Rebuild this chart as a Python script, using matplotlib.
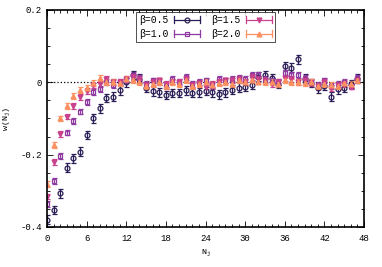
import numpy as np
import matplotlib
matplotlib.use("Agg")
import matplotlib.pyplot as plt
from matplotlib.lines import Line2D
from matplotlib.legend_handler import HandlerBase
from matplotlib.ticker import MultipleLocator, FuncFormatter

plt.rcParams['font.family'] = ['Liberation Mono', 'DejaVu Sans Mono']
plt.rcParams['mathtext.default'] = 'regular'

# data
n_j = list(range(48))
labels = ['β=0.5', 'β=1.0', 'β=1.5', 'β=2.0']

w_b05 = [-0.380, -0.353, -0.307, -0.236, -0.210, -0.192, -0.146, -0.100, -0.072, -0.044,
         -0.040, -0.022, 0.000, 0.020, 0.010, -0.015, -0.025, -0.028, -0.035, -0.030,
         -0.030, -0.022, -0.030, -0.028, -0.024, -0.028, -0.033, -0.028, -0.021, -0.015,
         -0.012, -0.008, 0.015, 0.020, 0.012, -0.005, 0.045, 0.040, 0.063, 0.010,
         -0.002, -0.017, -0.010, -0.040, -0.020, -0.015, -0.005, 0.010]
w_b10 = [-0.337, -0.272, -0.203, -0.139, -0.107, -0.081, -0.054, -0.027, -0.019, 0.000,
         -0.007, 0.000, 0.005, 0.020, 0.012, -0.005, 0.005, 0.000, -0.010, 0.008,
         0.002, 0.015, -0.005, 0.000, 0.005, -0.010, 0.008, 0.005, 0.010, 0.012,
         0.008, 0.020, 0.020, 0.010, 0.005, 0.000, 0.025, 0.020, 0.020, 0.012,
         0.002, -0.008, 0.005, -0.010, -0.005, 0.000, -0.010, 0.012]
w_b15 = [-0.316, -0.221, -0.143, -0.095, -0.065, -0.040, -0.024, -0.009, -0.005, 0.009,
         0.000, 0.002, 0.008, 0.015, 0.010, -0.008, 0.000, 0.005, -0.005, 0.002,
         0.000, 0.010, -0.008, -0.003, -0.012, -0.005, 0.000, 0.005, 0.005, 0.010,
         0.000, 0.015, 0.010, 0.005, -0.005, 0.000, 0.012, 0.010, 0.000, 0.005,
         -0.002, -0.010, 0.000, -0.015, -0.008, -0.005, -0.012, 0.005]
w_b20 = [-0.281, -0.173, -0.100, -0.066, -0.038, -0.021, -0.017, -0.003, 0.011, 0.000,
         0.000, -0.002, 0.008, 0.005, 0.000, -0.010, -0.005, 0.000, -0.010, 0.000,
         -0.005, 0.005, -0.010, -0.005, 0.000, -0.008, -0.002, 0.000, -0.005, 0.005,
         0.000, 0.005, 0.002, 0.000, 0.000, -0.005, 0.005, 0.000, 0.000, -0.002,
         0.000, -0.010, -0.005, -0.008, -0.010, -0.003, -0.005, 0.005]
err_b05 = 0.012
err_other = 0.008


class HandlerGnuErr(HandlerBase):
    # gnuplot-style key sample: |--o--|
    def create_artists(self, legend, orig, xd, yd, w, h, fs, trans):
        color, marker, mfc = orig
        y = h / 2 - yd
        ln = Line2D([-xd, w - xd], [y, y], color=color, lw=0.9, transform=trans)
        c1 = Line2D([-xd, -xd], [y - 2.5, y + 2.5], color=color, lw=0.9, transform=trans)
        c2 = Line2D([w - xd, w - xd], [y - 2.5, y + 2.5], color=color, lw=0.9, transform=trans)
        mk = Line2D([w / 2 - xd], [y], marker=marker, ms=3.5, color=color,
                    mfc=mfc, mew=0.9, ls='none', transform=trans)
        return [ln, c1, c2, mk]


fig = plt.figure(figsize=(3.82, 2.67), dpi=100)
ax = fig.add_axes([0.123, 0.150, 0.830, 0.813])

styles = [
    (w_b05, err_b05, '#2b1d55', 'o', 'none'),
    (w_b10, err_other, '#8e3aa0', 's', 'none'),
    (w_b15, err_other, '#c9418c', 'v', '#c9418c'),
    (w_b20, err_other, '#fc9060', '^', '#fc9060'),
]
for w, e, c, m, fc in styles:
    ax.errorbar(n_j, w, yerr=e, fmt=m, color=c, mfc=fc, ms=3.5, mew=0.9,
                elinewidth=0.9, capsize=1.8, capthick=0.9)

ax.axhline(0, color='black', ls=':', lw=0.9, zorder=0)

ax.set_xlim(0, 48)
ax.set_ylim(-0.4, 0.2)
ax.xaxis.set_major_locator(MultipleLocator(6))
ax.xaxis.set_minor_locator(MultipleLocator(1))
ax.yaxis.set_major_locator(MultipleLocator(0.2))
ax.yaxis.set_minor_locator(MultipleLocator(0.05))
ax.yaxis.set_major_formatter(FuncFormatter(lambda v, p: '0' if abs(v) < 1e-9 else '%.1f' % v))
ax.tick_params(which='both', direction='in', top=True, right=True, labelsize=6.5, colors='black')
ax.tick_params(which='major', length=4, width=0.6)
ax.tick_params(which='minor', length=2, width=0.6)
ax.tick_params(axis='x', pad=5)
for s in ax.spines.values():
    s.set_linewidth(1.2)

ax.set_xlabel('N$_j$', fontsize=6, labelpad=3)
ax.set_ylabel('w(N$_j$)', fontsize=6, labelpad=6)

handles = [(c, m, fc) for _, _, c, m, fc in styles]
leg = ax.legend(handles, labels, ncol=2, loc='upper center',
                bbox_to_anchor=(0.5, 0.998), handler_map={tuple: HandlerGnuErr()},
                markerfirst=False, fontsize=7, frameon=True, fancybox=False,
                handlelength=2.7, handletextpad=0.6, columnspacing=1.1,
                borderpad=0.3, labelspacing=0.4, borderaxespad=0.2)
leg.get_frame().set_edgecolor('black')
leg.get_frame().set_linewidth(0.6)

fig.savefig('out.png', dpi=100)
